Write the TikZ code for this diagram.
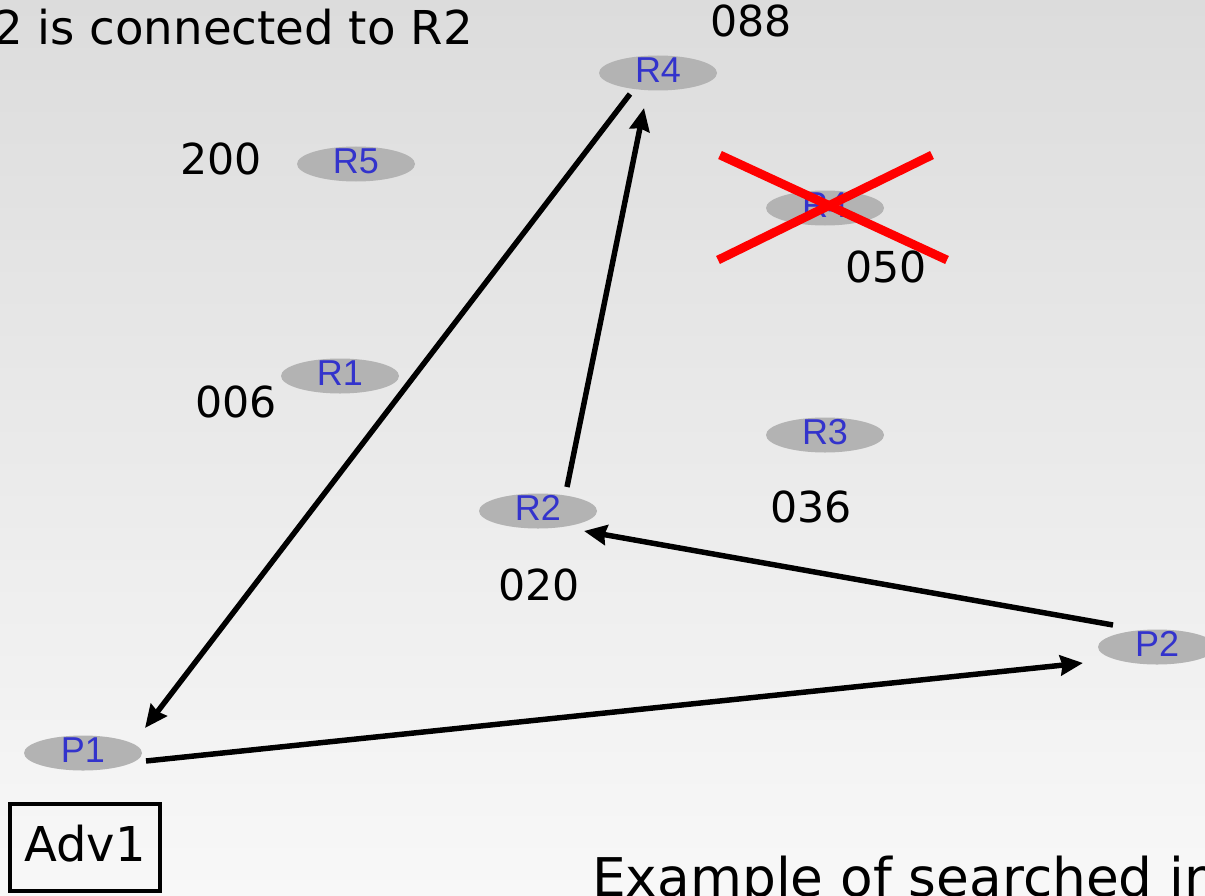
\documentclass[tikz,border=0pt]{standalone}
\usepackage{fontspec}
\setmainfont{DejaVu Sans}
\newfontfamily\labfont{Liberation Sans}
\usetikzlibrary{arrows.meta,calc,shapes.geometric}
\definecolor{nodegray}{HTML}{B3B3B3}
\definecolor{labblue}{HTML}{3333CC}
\definecolor{bgtop}{HTML}{DCDCDC}
\definecolor{bgbottom}{HTML}{F8F8F8}
% router label: zero-size box, caps sit slightly above the centre
\newcommand\rlab[1]{\raisebox{-7.3pt}[0pt][0pt]{#1}}
\tikzset{
  router/.style={ellipse, fill=nodegray, minimum width=88.5pt, minimum height=26.25pt,
    inner sep=0pt, outer sep=0pt, text=labblue, font=\labfont\fontsize{27}{27}\selectfont},
  weight/.style={anchor=base, inner sep=0pt, font=\fontsize{32}{32}\selectfont},
  link/.style={line width=4.1pt, -{Stealth[length=17pt,width=15pt,inset=1.5pt]}},
  cross/.style={draw=red, line width=6.6pt},
}
\begin{document}
\begin{tikzpicture}[x=0.75pt,y=-0.75pt]
\useasboundingbox (0,0) rectangle (1205,895);
\clip (0,0) rectangle (1205,895);
\shade[top color=bgtop, bottom color=bgbottom] (0,0) rectangle (1205,895);

% routers and peers
\node[router] (R4)  at (658,73)   {\rlab{R4}};
\node[router] (R5)  at (356,164)  {\rlab{R5}};
\node[router] (R4x) at (825,208)  {\rlab{R4}};
\node[router] (R1)  at (340,376)  {\rlab{R1}};
\node[router] (R3)  at (825,435)  {\rlab{R3}};
\node[router] (R2)  at (538,511)  {\rlab{R2}};
\node[router] (P2)  at (1157,647) {\rlab{P2}};
\node[router] (P1)  at (83,753)   {\rlab{P1}};

% identifiers
\node[weight] (w088) at (751,37)  {088};
\node[weight] (w200) at (221,175) {200};
\node[weight] (w050) at (886,282) {050};
\node[weight] (w006) at (236,417) {006};
\node[weight] (w036) at (811,522) {036};
\node[weight] (w020) at (539,600) {020};

% texts
\node[anchor=base east, inner sep=0pt, font=\fontsize{35}{35}\selectfont] (title) at (473,45) {2 is connected to R2};
\node[anchor=base west, inner sep=0pt, font=\fontsize{40}{40}\selectfont] (caption) at (592,896) {Example of searched in};
\node[draw, line width=3pt, minimum width=112.5pt, minimum height=65.25pt, inner sep=0pt,
      text height=26.2pt, text depth=4.5pt, font=\fontsize{36}{36}\selectfont] (adv) at (85,847.5) {Adv1};

% links
\draw[link] ($(R4)+(-28,21)$) -- ($(P1)+(62,-25)$);
\draw[link] ($(R2)+(29,-24)$) -- ($(R4)+(-14,35)$);
\draw[link] ($(P2)+(-44,-22)$) -- ($(R2)+(46,20)$);
\draw[link] ($(P1)+(63,8)$) -- ($(P2)+(-74,16)$);

% removed router
\draw[cross] ($(R4x)+(-105,-53)$) -- ($(R4x)+(122,52)$);
\draw[cross] ($(R4x)+(-107,52)$) -- ($(R4x)+(107,-53)$);
\end{tikzpicture}
\end{document}
